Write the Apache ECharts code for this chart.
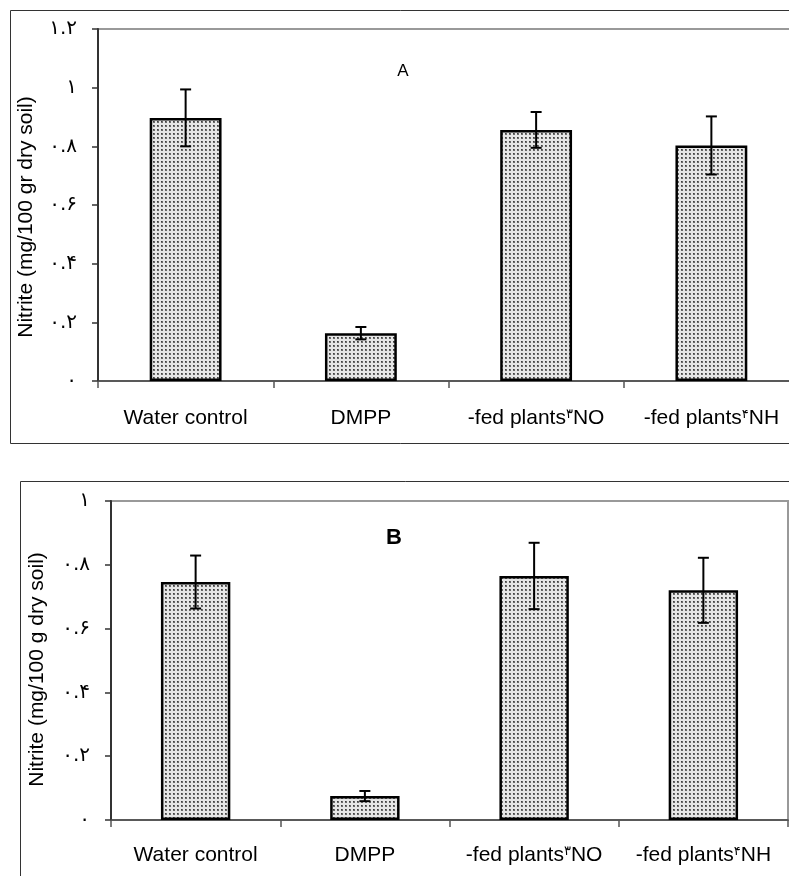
<!DOCTYPE html>
<html>
<head>
<meta charset="utf-8">
<script src="https://cdn.jsdelivr.net/npm/echarts@6/dist/echarts.min.js"></script>
<style>
html,body{margin:0;padding:0;background:#fff;}
#c{width:789px;height:876px;}
</style>
</head>
<body>
<div id="c"></div>
<script>
// ---- data ----
var categories = ['Water control', 'DMPP', '-fed plants۳NO', '-fed plants۴NH'];
var valuesA = [0.897, 0.163, 0.856, 0.803];
var errorsA = [0.097, 0.021, 0.061, 0.099];
var valuesB = [0.746, 0.075, 0.765, 0.720];
var errorsB = [0.083, 0.016, 0.104, 0.102];
var yTicksA = ['۰', '۰.۲', '۰.۴', '۰.۶', '۰.۸', '۱', '۱.۲'];
var yTicksB = ['۰', '۰.۲', '۰.۴', '۰.۶', '۰.۸', '۱'];
var titleA = 'Nitrite (mg/100 gr dry soil)';
var titleB = 'Nitrite (mg/100 g dry soil)';

// ---- dotted fill pattern ----
var pat = document.createElement('canvas');
pat.width = 4; pat.height = 4;
var pc = pat.getContext('2d');
pc.fillStyle = '#e6e6e6'; pc.fillRect(0, 0, 4, 4);
pc.fillStyle = '#6a6a6a'; pc.fillRect(1, 1, 2, 2);
pc.fillStyle = '#404040'; pc.fillRect(1, 1, 1, 1);

var FONT = "'Liberation Sans', Arial, 'DejaVu Sans', sans-serif";

function errRender(params, api) {
  var x = api.value(0), y = api.value(1), e = api.value(2);
  var t = api.coord([x, y + e]);
  var b = api.coord([x, y - e]);
  var w = 5.5;
  var st = { stroke: '#000', lineWidth: 2 };
  return {
    type: 'group',
    children: [
      { type: 'line', shape: { x1: t[0], y1: t[1], x2: b[0], y2: b[1] }, style: st },
      { type: 'line', shape: { x1: t[0] - w, y1: t[1], x2: t[0] + w, y2: t[1] }, style: st },
      { type: 'line', shape: { x1: b[0] - w, y1: b[1], x2: b[0] + w, y2: b[1] }, style: st }
    ]
  };
}

function catFmt(s) {
  return s.replace(/([۰-۹])/g, '{d|$1}');
}

function xAxisCfg(gi, margin) {
  return {
    type: 'category', gridIndex: gi, data: categories,
    axisLine: { show: true, lineStyle: { color: '#444', width: 1.5 } },
    axisTick: { show: true, length: 7, lineStyle: { color: '#555', width: 1.5 } },
    axisLabel: {
      interval: 0, hideOverlap: false,
      margin: margin, color: '#000', fontSize: 21, fontFamily: FONT,
      formatter: catFmt,
      rich: { d: { fontSize: 13, verticalAlign: 'top', fontFamily: FONT, color: '#000' } }
    }
  };
}

function yAxisCfg(gi, max, labels, name, gap, shift) {
  return {
    type: 'value', gridIndex: gi, min: 0, max: max, interval: 0.2,
    name: name, nameLocation: 'middle', nameGap: gap,
    nameTextStyle: { color: '#000', fontSize: 21, fontFamily: FONT, padding: [0, shift, 0, 0] },
    axisLine: { show: true, lineStyle: { color: '#333', width: 2 } },
    axisTick: { show: true, inside: false, length: 6, lineStyle: { color: '#333', width: 1.5 } },
    splitLine: { show: false },
    axisLabel: {
      margin: 21, color: '#000', fontSize: 20, fontFamily: "'DejaVu Sans', sans-serif",
      formatter: function (v) { return labels[Math.round(v / 0.2)]; }
    }
  };
}

function barSeries(i, vals) {
  return {
    type: 'bar', xAxisIndex: i, yAxisIndex: i, data: vals, barWidth: '41%',
    itemStyle: { color: { image: pat, repeat: 'repeat' }, borderColor: '#000', borderWidth: 2.5 },
    silent: true, animation: false
  };
}

function errSeries(i, vals, errs) {
  return {
    type: 'custom', xAxisIndex: i, yAxisIndex: i, z: 5,
    data: vals.map(function (v, k) { return [k, v, errs[k]]; }),
    renderItem: errRender, silent: true, animation: false
  };
}

var chart = echarts.init(document.getElementById('c'), null, { renderer: 'canvas' });
chart.setOption({
  backgroundColor: '#fff',
  animation: false,
  grid: [
    { left: 98, top: 29, right: -10, bottom: 876 - 381, show: true, borderColor: '#999', borderWidth: 2,
      backgroundColor: 'transparent', containLabel: false, outerBoundsMode: 'none' },
    { left: 111, top: 501, right: 1, bottom: 876 - 820, show: true, borderColor: '#999', borderWidth: 2,
      backgroundColor: 'transparent', containLabel: false, outerBoundsMode: 'none' }
  ],
  xAxis: [xAxisCfg(0, 27), xAxisCfg(1, 25)],
  yAxis: [yAxisCfg(0, 1.2, yTicksA, titleA, 61, 24), yAxisCfg(1, 1.0, yTicksB, titleB, 63, 18)],
  series: [
    barSeries(0, valuesA), errSeries(0, valuesA, errorsA),
    barSeries(1, valuesB), errSeries(1, valuesB, errorsB)
  ],
  graphic: [
    { type: 'rect', shape: { x: 10.5, y: 10.5, width: 800, height: 433 }, style: { fill: 'none', stroke: '#333', lineWidth: 1 }, z: -10 },
    { type: 'rect', shape: { x: 20.5, y: 481.5, width: 800, height: 500 }, style: { fill: 'none', stroke: '#333', lineWidth: 1 }, z: -10 },
    { type: 'text', x: 403, y: 71, style: { text: 'A', font: '17px ' + FONT, fill: '#000', textAlign: 'center', textVerticalAlign: 'middle' } },
    { type: 'text', x: 394, y: 538, style: { text: 'B', font: 'bold 22px ' + FONT, fill: '#000', textAlign: 'center', textVerticalAlign: 'middle' } }
  ]
});
</script>
</body>
</html>
